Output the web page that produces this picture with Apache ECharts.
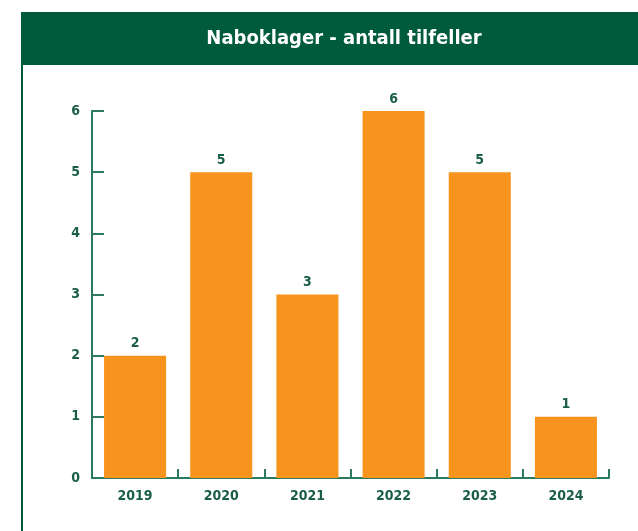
<!DOCTYPE html>
<html><head><meta charset="utf-8">
<script src="https://cdn.jsdelivr.net/npm/echarts@6/dist/echarts.min.js"></script>
<style>html,body{margin:0;padding:0;background:#fff}#c{width:638px;height:531px}</style>
</head><body><div id="c"></div>
<script>
const titleText = "Naboklager - antall tilfeller";
const categories = ["2019","2020","2021","2022","2023","2024"];
const values = [2,5,3,6,5,1];
const yTicks = [0,1,2,3,4,5,6];

const green = "#005a3c";
const axisGreen = "#2b7a5f";
const labelGreen = "#1b5e46";
const orange = "#f7941d";
const font = "'DejaVu Sans Condensed', 'DejaVu Sans', sans-serif";

const chart = echarts.init(document.getElementById('c'), null, {renderer:'canvas'});
chart.setOption({
  animation:false,
  backgroundColor:'#fff',
  graphic:[
    {type:'rect', shape:{x:22,y:12,width:616,height:53}, style:{fill:green}},
    {type:'rect', shape:{x:21,y:12,width:2,height:519}, style:{fill:green}},
    {type:'text', x:344, y:39, style:{text:titleText, fill:'#fff', font:"bold 20px "+font, textAlign:'center', textVerticalAlign:'middle'}}
  ],
  grid:{left:92, right:29, top:111, bottom:53},
  xAxis:{
    type:'category', data:categories,
    axisLine:{lineStyle:{color:axisGreen, width:2}},
    axisTick:{show:true, inside:true, length:9, lineStyle:{color:axisGreen, width:2}},
    axisLabel:{color:labelGreen, fontFamily:font, fontWeight:'bold', fontSize:14, margin:11}
  },
  yAxis:{
    type:'value', min:0, max:6, interval:1,
    axisLine:{show:true, lineStyle:{color:axisGreen, width:2}},
    axisTick:{show:true, inside:true, length:12, lineStyle:{color:axisGreen, width:2}},
    splitLine:{show:false},
    axisLabel:{color:labelGreen, fontFamily:font, fontWeight:'bold', fontSize:14, margin:12,
      formatter:v=> yTicks.includes(v) ? String(v) : ''}
  },
  series:[{
    type:'bar', data:values, barWidth:'72%',
    itemStyle:{color:orange},
    label:{show:true, position:'top', distance:5, color:labelGreen, fontFamily:font, fontWeight:'bold', fontSize:14}
  }]
});
</script></body></html>
